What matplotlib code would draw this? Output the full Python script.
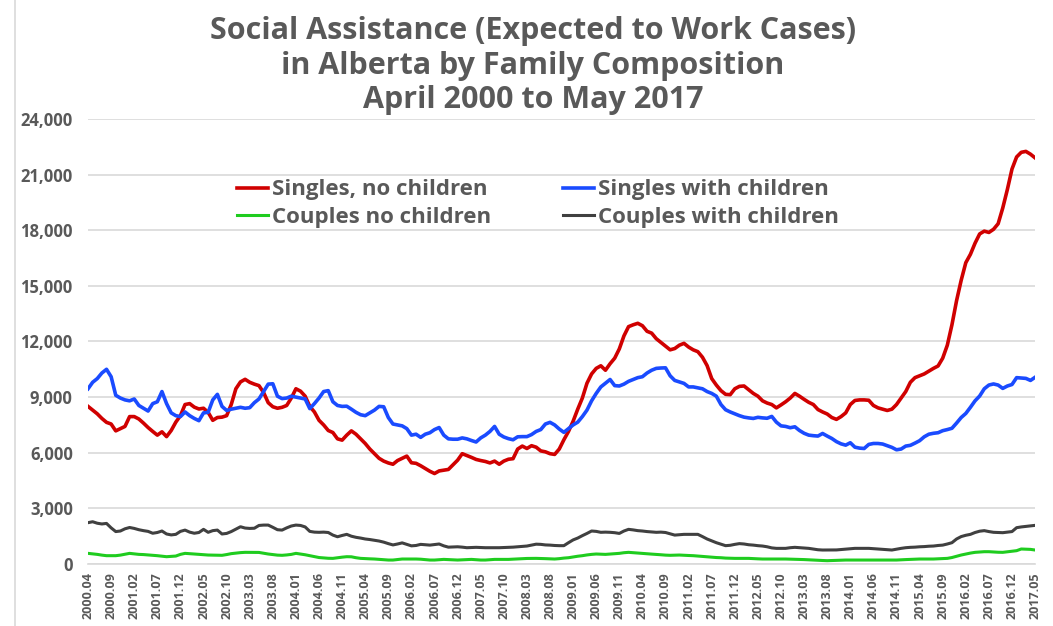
import matplotlib
matplotlib.use("Agg")
from matplotlib import pyplot as plt
from matplotlib.lines import Line2D
from matplotlib.ticker import FuncFormatter

plt.rcParams['font.family'] = ['Open Sans', 'DejaVu Sans']

# months April 2000 .. May 2017
months = []
for y in range(2000, 2018):
    for m in range(1, 13):
        if (y == 2000 and m < 4) or (y == 2017 and m > 5):
            continue
        months.append("{}.{:02d}".format(y, m))

singles_no_children = [
    8500, 8300, 8100, 7850, 7640, 7550, 7180, 7300, 7420, 7950,
    7950, 7820, 7600, 7360, 7150, 6950, 7130, 6870, 7200, 7650,
    8000, 8600, 8650, 8460, 8360, 8400, 8180, 7750, 7900, 7920,
    8000, 8600, 9450, 9820, 9960, 9800, 9700, 9620, 9250, 8700,
    8480, 8400, 8450, 8550, 8950, 9450, 9320, 9050, 8500, 8200,
    7750, 7500, 7200, 7090, 6750, 6680, 6950, 7180, 7000, 6750,
    6500, 6200, 5950, 5700, 5550, 5450, 5380, 5580, 5700, 5820,
    5460, 5430, 5300, 5150, 5000, 4880, 5020, 5060, 5100, 5350,
    5600, 5950, 5850, 5750, 5640, 5580, 5530, 5450, 5550, 5380,
    5550, 5650, 5680, 6200, 6360, 6230, 6380, 6300, 6100, 6050,
    5950, 5910, 6200, 6700, 7150, 7700, 8350, 8950, 9750, 10250,
    10550, 10690, 10450, 10800, 11100, 11600, 12300, 12800, 12900, 12980,
    12850, 12550, 12450, 12150, 11950, 11750, 11550, 11620, 11800, 11900,
    11700, 11550, 11450, 11150, 10700, 10000, 9650, 9350, 9150, 9130,
    9450, 9580, 9600, 9400, 9200, 9050, 8800, 8680, 8600, 8420,
    8580, 8750, 8950, 9200, 9050, 8880, 8720, 8600, 8330, 8200,
    8090, 7900, 7800, 7950, 8150, 8600, 8820, 8850, 8850, 8830,
    8550, 8420, 8350, 8280, 8350, 8600, 8950, 9300, 9800, 10050,
    10150, 10250, 10400, 10550, 10680, 11100, 11800, 12900, 14200, 15300,
    16250, 16700, 17300, 17800, 17950, 17880, 18050, 18350, 19200, 20200,
    21300, 21950, 22200, 22250, 22100, 21900,
]

singles_with_children = [
    9450, 9800, 10000, 10300, 10500, 10100, 9100, 8950, 8850, 8800,
    8900, 8550, 8400, 8250, 8650, 8750, 9300, 8650, 8150, 8000,
    7950, 8200, 8000, 7850, 7730, 8150, 8180, 8850, 9150, 8500,
    8280, 8350, 8400, 8450, 8400, 8430, 8700, 8900, 9300, 9700,
    9720, 9050, 8920, 8950, 9050, 9000, 8950, 8900, 8380, 8650,
    8950, 9300, 9350, 8750, 8550, 8500, 8510, 8350, 8180, 8050,
    8000, 8150, 8300, 8500, 8480, 7900, 7550, 7500, 7450, 7300,
    6950, 7000, 6830, 7000, 7080, 7250, 7360, 6950, 6750, 6730,
    6730, 6800, 6750, 6660, 6580, 6800, 6950, 7150, 7420, 7000,
    6850, 6760, 6700, 6860, 6870, 6870, 6980, 7150, 7250, 7550,
    7640, 7500, 7280, 7100, 7300, 7500, 7650, 7950, 8300, 8800,
    9200, 9550, 9750, 9950, 9620, 9600, 9700, 9850, 9950, 10050,
    10100, 10300, 10450, 10550, 10570, 10580, 10150, 9900, 9820, 9740,
    9550, 9550, 9500, 9450, 9300, 9200, 9050, 8600, 8320, 8200,
    8100, 8000, 7920, 7880, 7850, 7910, 7880, 7860, 7960, 7650,
    7450, 7420, 7350, 7400, 7200, 7050, 6950, 6920, 6900, 7040,
    6900, 6770, 6600, 6480, 6410, 6540, 6300, 6250, 6230, 6450,
    6500, 6500, 6470, 6380, 6290, 6160, 6200, 6360, 6400, 6520,
    6650, 6860, 7000, 7050, 7080, 7190, 7250, 7320, 7600, 7900,
    8120, 8450, 8800, 9060, 9450, 9650, 9710, 9650, 9470, 9600,
    9680, 10050, 10030, 10010, 9900, 10070,
]

couples_no_children = [
    575, 550, 520, 480, 450, 450, 450, 480, 530, 575,
    550, 520, 510, 490, 470, 450, 420, 395, 410, 430,
    520, 575, 560, 540, 520, 500, 485, 480, 475, 470,
    510, 560, 590, 615, 630, 630, 630, 625, 580, 540,
    510, 480, 470, 490, 520, 575, 540, 500, 450, 400,
    350, 330, 310, 305, 340, 370, 395, 390, 340, 305,
    290, 280, 270, 250, 230, 215, 215, 240, 270, 270,
    270, 270, 260, 240, 215, 215, 230, 250, 240, 225,
    215, 225, 240, 250, 230, 215, 215, 230, 250, 250,
    250, 250, 260, 275, 290, 300, 305, 305, 300, 290,
    280, 270, 290, 320, 340, 380, 420, 450, 490, 520,
    540, 530, 520, 540, 560, 575, 610, 630, 610, 590,
    575, 555, 535, 520, 500, 480, 470, 480, 485, 470,
    460, 450, 430, 410, 395, 370, 350, 340, 320, 310,
    305, 305, 305, 305, 290, 280, 270, 270, 270, 270,
    270, 270, 260, 255, 250, 240, 230, 215, 200, 190,
    180, 190, 205, 215, 215, 215, 215, 215, 215, 215,
    215, 215, 215, 215, 215, 215, 230, 240, 250, 260,
    270, 270, 270, 270, 280, 295, 305, 350, 420, 485,
    540, 590, 630, 650, 665, 665, 650, 635, 630, 660,
    690, 720, 810, 800, 790, 755,
]

couples_with_children = [
    2230, 2280, 2200, 2160, 2190, 1950, 1750, 1780, 1900, 1970,
    1920, 1850, 1800, 1760, 1660, 1700, 1780, 1620, 1570, 1600,
    1760, 1830, 1720, 1660, 1700, 1870, 1710, 1800, 1830, 1620,
    1650, 1750, 1880, 2010, 1940, 1920, 1930, 2080, 2100, 2100,
    1980, 1850, 1830, 1950, 2050, 2100, 2080, 2000, 1760, 1720,
    1710, 1720, 1700, 1560, 1470, 1540, 1600, 1500, 1440, 1400,
    1350, 1320, 1280, 1240, 1180, 1100, 1030, 1080, 1140, 1060,
    980, 1000, 1060, 1040, 1020, 1050, 1080, 980, 910, 920,
    930, 910, 880, 890, 900, 890, 880, 880, 880, 880,
    890, 900, 910, 930, 950, 970, 1020, 1070, 1060, 1030,
    1020, 1000, 990, 990, 1150, 1300, 1400, 1530, 1650, 1780,
    1760, 1710, 1720, 1710, 1690, 1650, 1780, 1870, 1840, 1800,
    1780, 1750, 1730, 1710, 1720, 1700, 1630, 1560, 1580, 1600,
    1600, 1600, 1600, 1480, 1350, 1250, 1150, 1070, 990, 1010,
    1060, 1100, 1080, 1040, 1020, 990, 970, 930, 870, 845,
    845, 845, 880, 900, 880, 860, 845, 810, 770, 755,
    755, 755, 760, 780, 800, 820, 845, 845, 845, 845,
    830, 810, 790, 770, 755, 800, 845, 880, 900, 910,
    930, 940, 960, 970, 1000, 1020, 1080, 1150, 1350, 1480,
    1550, 1600, 1700, 1770, 1800, 1750, 1710, 1700, 1690, 1720,
    1750, 1960, 2000, 2030, 2060, 2085,
]

text_color = "#595959"

fig = plt.figure(figsize=(10.53, 6.26), dpi=100)
ax = fig.add_axes([0.0836, 0.099, 0.8994, 0.711])

x = list(range(len(months)))
l1, = ax.plot(x, singles_no_children, color="#D00000", lw=2.6, label="Singles, no children")
l2, = ax.plot(x, singles_with_children, color="#1A4BFF", lw=2.6, label="Singles with children")
l3, = ax.plot(x, couples_no_children, color="#1FCC1F", lw=2.2, label="Couples no children")
l4, = ax.plot(x, couples_with_children, color="#404040", lw=2.2, label="Couples with children")

ax.set_xlim(0, len(months) - 1)
ax.set_ylim(0, 24000)
ax.set_yticks(range(0, 24001, 3000))
ax.yaxis.set_major_formatter(FuncFormatter(lambda v, p: "{:,.0f}".format(v)))
ax.set_xticks(x[::5])
ax.set_xticklabels(months[::5], rotation=90)

ax.grid(axis="y", color="#d9d9d9", lw=1.2)
ax.set_axisbelow(True)
for s in ["top", "right", "left"]:
    ax.spines[s].set_visible(False)
ax.spines["bottom"].set_color("#d9d9d9")
ax.spines["bottom"].set_linewidth(1.2)
ax.tick_params(axis="both", length=0, colors=text_color)
ax.tick_params(axis="y", pad=11)
ax.tick_params(axis="x", pad=6)
for t in ax.get_yticklabels():
    t.set_fontsize(12)
    t.set_fontweight("bold")
for t in ax.get_xticklabels():
    t.set_fontsize(9)
    t.set_fontweight("bold")

# row-wise legend: matplotlib fills columns first
leg = ax.legend([l1, l3, l2, l4], [l.get_label() for l in (l1, l3, l2, l4)],
                ncol=2, frameon=False, loc="upper left", bbox_to_anchor=(0.157, 0.864),
                borderpad=0, borderaxespad=0,
                handlelength=1.4, handletextpad=0.2, columnspacing=3.2,
                labelspacing=0.3, prop={"size": 16, "weight": "bold"})
for t in leg.get_texts():
    t.set_color(text_color)

fig.text(0.506, 0.974, "Social Assistance (Expected to Work Cases)\nin Alberta by Family Composition\nApril 2000 to May 2017",
         ha="center", va="top", fontsize=22, fontweight="bold", color=text_color, linespacing=1.2)

fig.add_artist(Line2D([0.0145, 0.0145], [0, 1], color="#d9d9d9", lw=1.2))

fig.savefig("out.png", dpi=100)
